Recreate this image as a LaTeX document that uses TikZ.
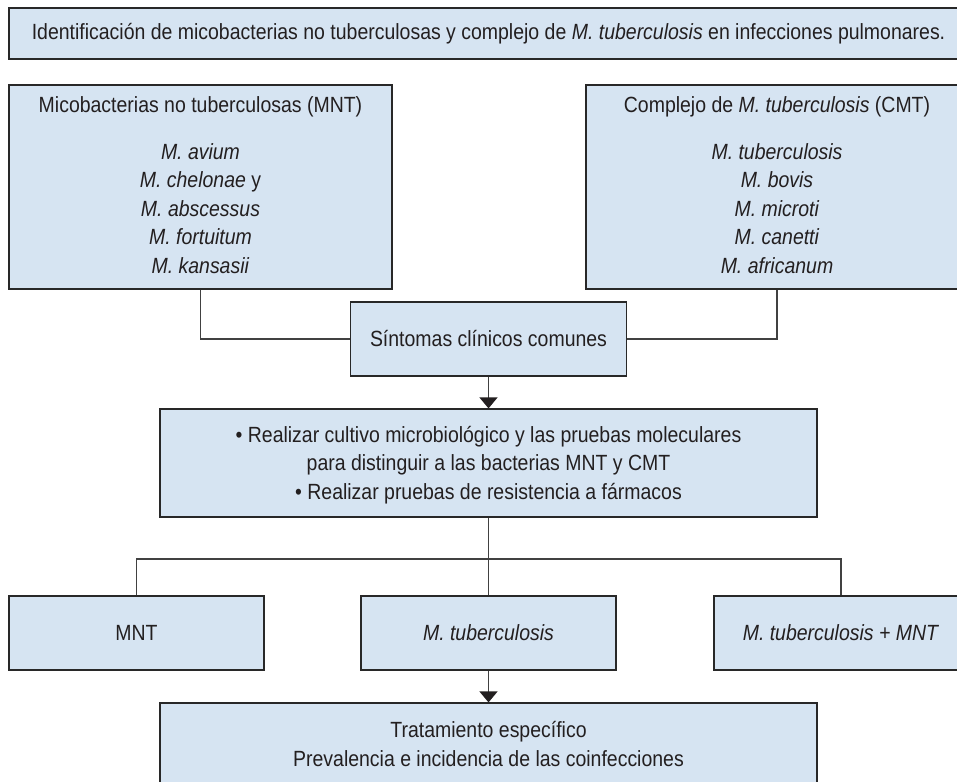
\documentclass[tikz,border=0pt]{standalone}
\usepackage{fontspec}
\setmainfont[FakeStretch=0.885]{Liberation Sans}
\usetikzlibrary{arrows.meta}
\definecolor{boxfill}{RGB}{214,228,242}
\definecolor{boxline}{RGB}{40,40,40}
\definecolor{txt}{RGB}{35,31,32}
\definecolor{connc}{RGB}{65,65,65}
\begin{document}
\begin{tikzpicture}[x=1pt,y=-1pt,
  box/.style={draw=boxline, fill=boxfill, line width=1.2pt, inner sep=0pt},
  lbl/.style={text=txt, font=\fontsize{22}{28.5}\selectfont, align=center, inner sep=0pt},
  conn/.style={draw=connc, line width=1.3pt},
  arr/.style={conn, -{Triangle[width=18pt,length=11pt,color=txt]}}]
\clip (0,0) rectangle (957,781);
\fill[white] (0,0) rectangle (957,781);
% boxes
\node[box, minimum width=959pt, minimum height=51pt] (top) at (488.5,33.5) {};
\node[box, minimum width=383pt, minimum height=204pt] (mnt) at (200.5,187) {};
\node[box, minimum width=382pt, minimum height=204pt] (cmt) at (777,187) {};
\node[box, minimum width=276pt, minimum height=74pt] (sint) at (488.5,339) {};
\node[box, minimum width=657pt, minimum height=108pt] (real) at (488.5,463) {};
\node[box, minimum width=255pt, minimum height=74pt] (mntb) at (136.5,633) {};
\node[box, minimum width=255pt, minimum height=74pt] (mtb) at (488.5,633) {};
\node[box, minimum width=254pt, minimum height=74pt] (both) at (841,633) {};
\node[box, minimum width=657pt, minimum height=100pt] (trat) at (488.5,753) {};
% texts
\node[lbl] (toptxt) at (488.5,33.5) {Identificación de micobacterias no tuberculosas y complejo de \textit{M. tuberculosis} en infecciones pulmonares.};
\node[lbl] (mnttitle) at (200.5,107) {Micobacterias no tuberculosas (MNT)};
\node[lbl] (mntlist) at (200.5,208.5) {\textit{M. avium}\\\textit{M. chelonae} y\\\textit{M. abscessus}\\\textit{M. fortuitum}\\\textit{M. kansasii}};
\node[lbl] (cmttitle) at (777,107) {Complejo de \textit{M. tuberculosis} (CMT)};
\node[lbl] (cmtlist) at (777,208.5) {\textit{M. tuberculosis}\\\textit{M. bovis}\\\textit{M. microti}\\\textit{M. canetti}\\\textit{M. africanum}};
\node[lbl] (sinttxt) at (488.5,339) {Síntomas clínicos comunes};
\node[lbl] (realtxt) at (488.5,465) {• Realizar cultivo microbiológico y las pruebas moleculares\\para distinguir a las bacterias MNT y CMT\\• Realizar pruebas de resistencia a fármacos};
\node[lbl] (mntbtxt) at (136.5,633) {MNT};
\node[lbl] (mtbtxt) at (488.5,633) {\textit{M. tuberculosis}};
\node[lbl] (bothtxt) at (841,633) {\textit{M. tuberculosis + MNT}};
\node[lbl] (trattxt) at (488.5,744) {Tratamiento específico\\Prevalencia e incidencia de las coinfecciones};
% connectors
\coordinate (br) at (488.5,559);
\draw[conn] (mnt.south) |- (sint.west);
\draw[conn] (cmt.south) |- (sint.east);
\draw[arr] (sint.south) -- (real.north);
\draw[conn] (real.south) -- (mtb.north);
\draw[conn] (mntb.north) -- (mntb.north |- br) -- (both.north |- br) -- (both.north);
\draw[arr] (mtb.south) -- (trat.north);
\end{tikzpicture}
\end{document}
